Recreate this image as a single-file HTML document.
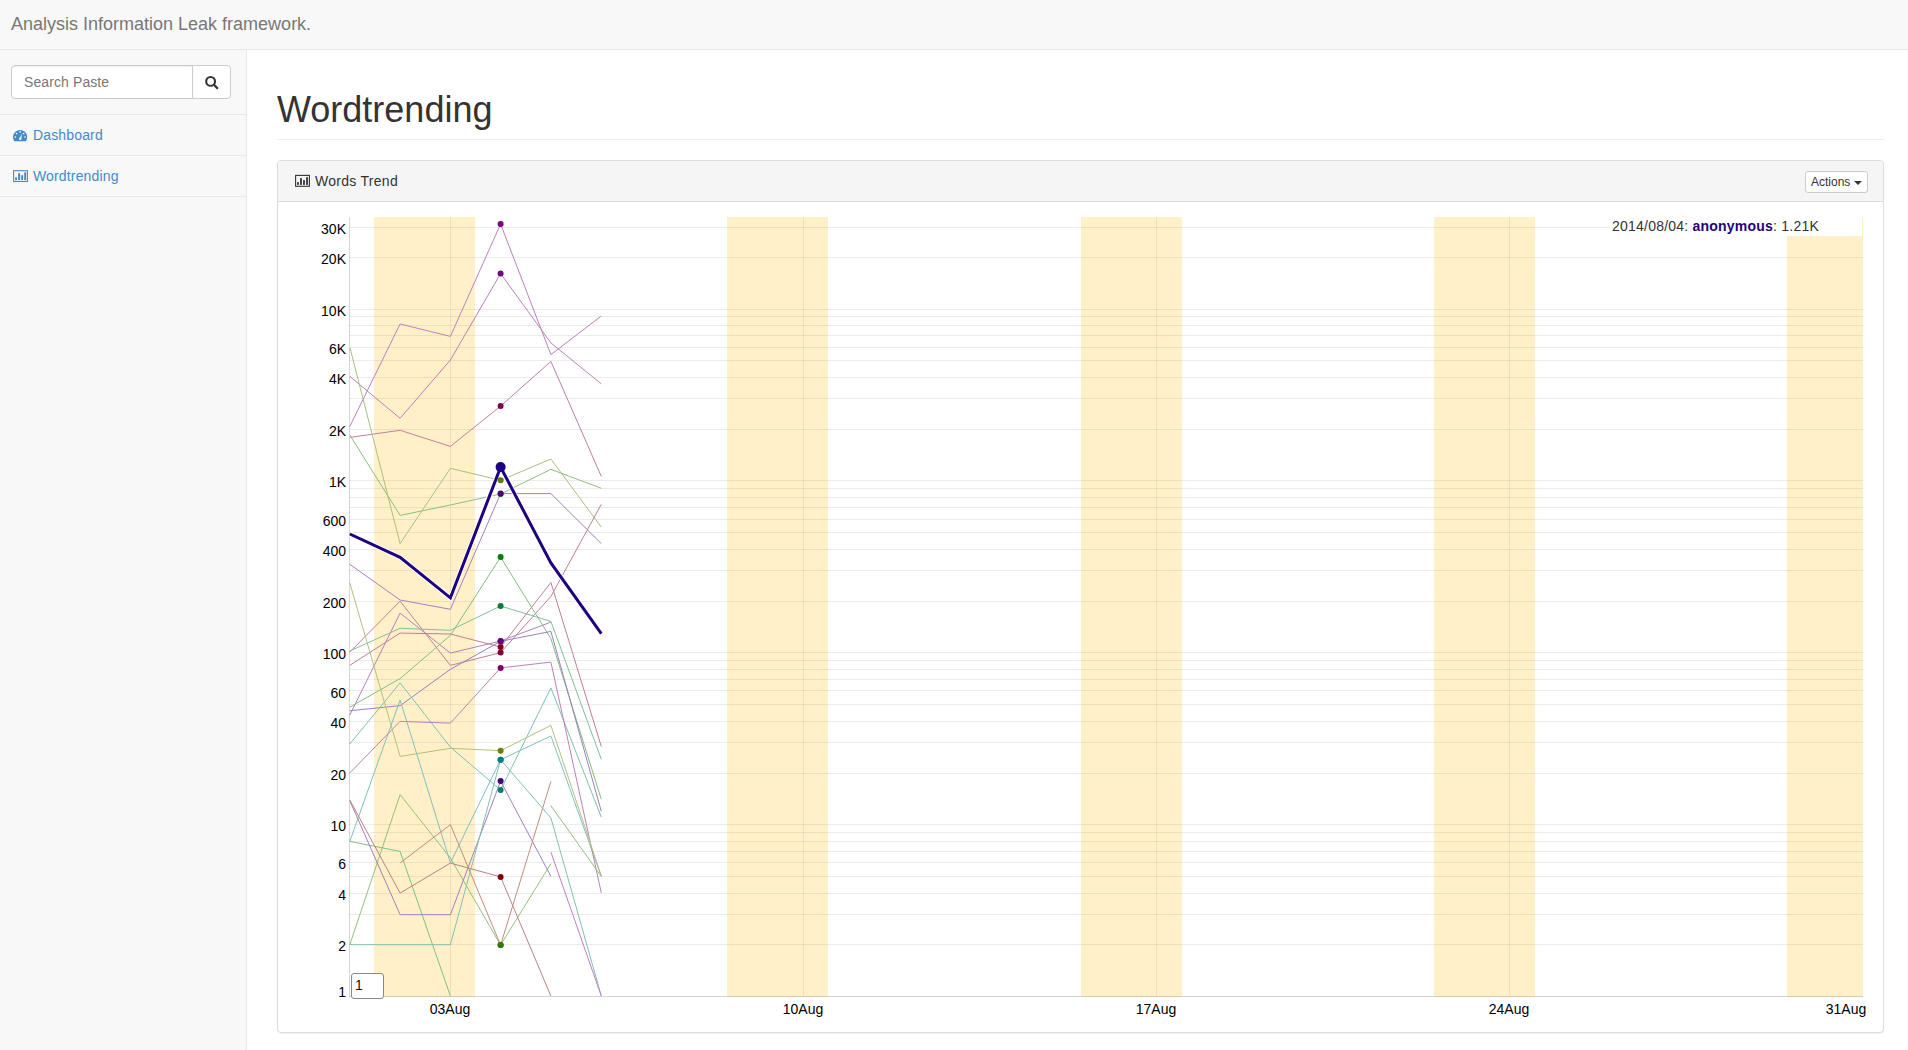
<!DOCTYPE html>
<html><head><meta charset="utf-8">
<style>
*{box-sizing:border-box;margin:0;padding:0}
html,body{width:1908px;height:1050px;overflow:hidden}
body{font-family:"Liberation Sans",sans-serif;font-size:14px;color:#333;background:#f8f8f8;position:relative}
.nav{position:absolute;left:0;top:0;width:1908px;height:50px;background:#f8f8f8;border-bottom:1px solid #e7e7e7}
.brand{position:absolute;left:11px;top:14px;font-size:18px;line-height:20px;color:#777;white-space:nowrap}
.side{position:absolute;left:0;top:50px;width:246px}
.search{position:absolute;left:11px;top:65px;width:220px;height:34px}
.search .inp{position:absolute;left:0;top:0;width:182px;height:34px;border:1px solid #ccc;border-radius:4px 0 0 4px;background:#fff;box-shadow:inset 0 1px 1px rgba(0,0,0,.075)}
.search .inp span{position:absolute;left:12px;top:6px;line-height:20px;color:#777;font-size:14px;letter-spacing:0.1px}
.search .btn{position:absolute;left:181px;top:0;width:39px;height:34px;border:1px solid #ccc;border-radius:0 4px 4px 0;background:#fff}
.hr{position:absolute;left:0;width:246px;height:1px;background:#e7e7e7}
.navlink{position:absolute;left:33px;line-height:20px;color:#428bca;font-size:14px;white-space:nowrap;letter-spacing:0.15px}
.vline{position:absolute;left:246px;top:50px;width:1px;height:1000px;background:#e7e7e7}
.main{position:absolute;left:247px;top:50px;width:1661px;height:1000px;background:#fff}
h1{position:absolute;left:277px;top:90px;font-size:36px;line-height:39.6px;font-weight:500;color:#333;white-space:nowrap}
.hdrline{position:absolute;left:277px;top:139px;width:1607px;height:1px;background:#eee}
.panel{position:absolute;left:277px;top:160px;width:1607px;height:873px;border:1px solid #ddd;border-radius:4px;background:#fff;box-shadow:0 1px 1px rgba(0,0,0,.05)}
.phead{position:absolute;left:0;top:0;width:1605px;height:41px;background:#f5f5f5;border-bottom:1px solid #ddd;border-radius:3px 3px 0 0}
.ptitle{position:absolute;left:37px;top:10px;line-height:20px;font-size:14px;color:#333;white-space:nowrap;letter-spacing:0.28px}
.actions{position:absolute;left:1527px;top:10px;width:63px;height:22px;border:1px solid #ccc;border-radius:3px;background:#fff;font-size:12px;line-height:18px;color:#333;padding-left:5px;padding-top:1px;white-space:nowrap}
.caret{display:inline-block;width:0;height:0;margin-left:4px;vertical-align:middle;border-top:4px solid #333;border-left:4px solid transparent;border-right:4px solid transparent}
.ylab{position:absolute;width:60px;text-align:right;font-size:14px;line-height:16px;color:#000}
.xlab{position:absolute;width:60px;text-align:center;font-size:14px;line-height:16px;color:#000}
.legend{position:absolute;left:1612px;top:217px;width:250px;height:19px;background:#fff;font-size:14px;line-height:19px;color:#333;white-space:nowrap;letter-spacing:0.22px;overflow:hidden}
.roller{position:absolute;left:351px;top:973px;width:33px;height:26px;border:1px solid #888;border-radius:3px;background:#fff;font-size:14px;line-height:22px;padding-left:3px;color:#111}
</style></head><body>
<div class="nav"><div class="brand">Analysis Information Leak framework.</div></div>
<div class="vline"></div>
<div class="main"></div>
<div class="search"><div class="inp"><span>Search Paste</span></div><div class="btn"></div></div>
<div class="hr" style="top:114px"></div>
<div class="hr" style="top:155px"></div>
<div class="hr" style="top:196px"></div>
<div class="navlink" style="top:125px">Dashboard</div>
<div class="navlink" style="top:166px">Wordtrending</div>
<h1>Wordtrending</h1>
<div class="hdrline"></div>
<div class="panel">
 <div class="phead"><div class="ptitle">Words Trend</div><div class="actions">Actions<span class="caret"></span></div></div>
</div>
<svg class="chart" width="1908" height="1050" viewBox="0 0 1908 1050" style="position:absolute;left:0;top:0">
<rect x="374" y="217" width="101" height="780" fill="#fff0c8"/>
<rect x="727" y="217" width="101" height="780" fill="#fff0c8"/>
<rect x="1081" y="217" width="101" height="780" fill="#fff0c8"/>
<rect x="1434" y="217" width="101" height="780" fill="#fff0c8"/>
<rect x="1787" y="217" width="76" height="780" fill="#fff0c8"/>
<line x1="349" y1="944.5" x2="1863" y2="944.5" stroke="rgba(140,140,140,0.17)" stroke-width="1"/>
<line x1="349" y1="914.5" x2="1863" y2="914.5" stroke="rgba(140,140,140,0.17)" stroke-width="1"/>
<line x1="349" y1="893.5" x2="1863" y2="893.5" stroke="rgba(140,140,140,0.17)" stroke-width="1"/>
<line x1="349" y1="876.5" x2="1863" y2="876.5" stroke="rgba(140,140,140,0.17)" stroke-width="1"/>
<line x1="349" y1="862.5" x2="1863" y2="862.5" stroke="rgba(140,140,140,0.17)" stroke-width="1"/>
<line x1="349" y1="851.5" x2="1863" y2="851.5" stroke="rgba(140,140,140,0.17)" stroke-width="1"/>
<line x1="349" y1="841.5" x2="1863" y2="841.5" stroke="rgba(140,140,140,0.17)" stroke-width="1"/>
<line x1="349" y1="832.5" x2="1863" y2="832.5" stroke="rgba(140,140,140,0.17)" stroke-width="1"/>
<line x1="349" y1="824.5" x2="1863" y2="824.5" stroke="rgba(140,140,140,0.17)" stroke-width="1"/>
<line x1="349" y1="773.5" x2="1863" y2="773.5" stroke="rgba(140,140,140,0.17)" stroke-width="1"/>
<line x1="349" y1="742.5" x2="1863" y2="742.5" stroke="rgba(140,140,140,0.17)" stroke-width="1"/>
<line x1="349" y1="721.5" x2="1863" y2="721.5" stroke="rgba(140,140,140,0.17)" stroke-width="1"/>
<line x1="349" y1="704.5" x2="1863" y2="704.5" stroke="rgba(140,140,140,0.17)" stroke-width="1"/>
<line x1="349" y1="690.5" x2="1863" y2="690.5" stroke="rgba(140,140,140,0.17)" stroke-width="1"/>
<line x1="349" y1="679.5" x2="1863" y2="679.5" stroke="rgba(140,140,140,0.17)" stroke-width="1"/>
<line x1="349" y1="669.5" x2="1863" y2="669.5" stroke="rgba(140,140,140,0.17)" stroke-width="1"/>
<line x1="349" y1="660.5" x2="1863" y2="660.5" stroke="rgba(140,140,140,0.17)" stroke-width="1"/>
<line x1="349" y1="652.5" x2="1863" y2="652.5" stroke="rgba(140,140,140,0.17)" stroke-width="1"/>
<line x1="349" y1="601.5" x2="1863" y2="601.5" stroke="rgba(140,140,140,0.17)" stroke-width="1"/>
<line x1="349" y1="570.5" x2="1863" y2="570.5" stroke="rgba(140,140,140,0.17)" stroke-width="1"/>
<line x1="349" y1="549.5" x2="1863" y2="549.5" stroke="rgba(140,140,140,0.17)" stroke-width="1"/>
<line x1="349" y1="532.5" x2="1863" y2="532.5" stroke="rgba(140,140,140,0.17)" stroke-width="1"/>
<line x1="349" y1="519.5" x2="1863" y2="519.5" stroke="rgba(140,140,140,0.17)" stroke-width="1"/>
<line x1="349" y1="507.5" x2="1863" y2="507.5" stroke="rgba(140,140,140,0.17)" stroke-width="1"/>
<line x1="349" y1="497.5" x2="1863" y2="497.5" stroke="rgba(140,140,140,0.17)" stroke-width="1"/>
<line x1="349" y1="488.5" x2="1863" y2="488.5" stroke="rgba(140,140,140,0.17)" stroke-width="1"/>
<line x1="349" y1="480.5" x2="1863" y2="480.5" stroke="rgba(140,140,140,0.17)" stroke-width="1"/>
<line x1="349" y1="429.5" x2="1863" y2="429.5" stroke="rgba(140,140,140,0.17)" stroke-width="1"/>
<line x1="349" y1="398.5" x2="1863" y2="398.5" stroke="rgba(140,140,140,0.17)" stroke-width="1"/>
<line x1="349" y1="377.5" x2="1863" y2="377.5" stroke="rgba(140,140,140,0.17)" stroke-width="1"/>
<line x1="349" y1="360.5" x2="1863" y2="360.5" stroke="rgba(140,140,140,0.17)" stroke-width="1"/>
<line x1="349" y1="347.5" x2="1863" y2="347.5" stroke="rgba(140,140,140,0.17)" stroke-width="1"/>
<line x1="349" y1="335.5" x2="1863" y2="335.5" stroke="rgba(140,140,140,0.17)" stroke-width="1"/>
<line x1="349" y1="325.5" x2="1863" y2="325.5" stroke="rgba(140,140,140,0.17)" stroke-width="1"/>
<line x1="349" y1="316.5" x2="1863" y2="316.5" stroke="rgba(140,140,140,0.17)" stroke-width="1"/>
<line x1="349" y1="309.5" x2="1863" y2="309.5" stroke="rgba(140,140,140,0.17)" stroke-width="1"/>
<line x1="349" y1="257.5" x2="1863" y2="257.5" stroke="rgba(140,140,140,0.17)" stroke-width="1"/>
<line x1="349" y1="227.5" x2="1863" y2="227.5" stroke="rgba(140,140,140,0.17)" stroke-width="1"/>
<line x1="450.5" y1="217" x2="450.5" y2="996" stroke="rgba(140,140,140,0.17)" stroke-width="1"/>
<line x1="803.5" y1="217" x2="803.5" y2="996" stroke="rgba(140,140,140,0.17)" stroke-width="1"/>
<line x1="1156.5" y1="217" x2="1156.5" y2="996" stroke="rgba(140,140,140,0.17)" stroke-width="1"/>
<line x1="1509.5" y1="217" x2="1509.5" y2="996" stroke="rgba(140,140,140,0.17)" stroke-width="1"/>
<line x1="349.5" y1="217" x2="349.5" y2="997" stroke="rgba(120,120,120,0.30)" stroke-width="1"/>
<line x1="349" y1="996.5" x2="1863" y2="996.5" stroke="rgba(120,120,120,0.30)" stroke-width="1"/>
<polyline points="349.8,426.4 400.1,324.0 450.4,336.4 500.6,224.0 550.9,354.6 601.3,316.0" fill="none" stroke="#c080c0" stroke-width="1" stroke-linejoin="miter"/>
<polyline points="349.8,376.4 400.1,418.3 450.4,360.0 500.6,273.6 550.9,342.9 601.3,383.9" fill="none" stroke="#bc80c0" stroke-width="1" stroke-linejoin="miter"/>
<polyline points="349.8,437.4 400.1,430.3 450.4,446.4 500.6,406.1 550.9,361.4 601.3,476.4" fill="none" stroke="#c080a5" stroke-width="1" stroke-linejoin="miter"/>
<polyline points="349.8,435.0 400.1,515.4 450.4,505.0 500.6,494.0 550.9,469.3 601.3,488.3" fill="none" stroke="#8ac080" stroke-width="1" stroke-linejoin="miter"/>
<polyline points="349.8,347.1 400.1,543.6 450.4,468.3 500.6,480.3 550.9,459.0 601.3,527.1" fill="none" stroke="#aac080" stroke-width="1" stroke-linejoin="miter"/>
<polyline points="349.8,564.3 400.1,600.0 450.4,609.3 500.6,493.6 550.9,493.6 601.3,543.6" fill="none" stroke="#a580c0" stroke-width="1" stroke-linejoin="miter"/>
<polyline points="349.8,652.1 400.1,601.1 450.4,665.4 500.6,652.6 550.9,596.4 601.3,504.3" fill="none" stroke="#c0809a" stroke-width="1" stroke-linejoin="miter"/>
<polyline points="349.8,715.0 400.1,613.1 450.4,653.1 500.6,641.0 550.9,622.1" fill="none" stroke="#b480c0" stroke-width="1" stroke-linejoin="miter"/>
<polyline points="349.8,651.0 400.1,628.3 450.4,630.3 500.6,606.0 550.9,621.4 601.3,759.3" fill="none" stroke="#80c09a" stroke-width="1" stroke-linejoin="miter"/>
<polyline points="349.8,665.3 400.1,633.1 450.4,634.0 500.6,647.0 550.9,582.5 601.3,746.5" fill="none" stroke="#c08090" stroke-width="1" stroke-linejoin="miter"/>
<polyline points="349.8,707.1 400.1,678.6 450.4,635.4 500.6,557.1 550.9,638.6 601.3,799.3" fill="none" stroke="#80c080" stroke-width="1" stroke-linejoin="miter"/>
<polyline points="349.8,710.7 400.1,705.7 450.4,669.3 500.6,641.3 550.9,631.4 601.3,811.4" fill="none" stroke="#9a80c0" stroke-width="1" stroke-linejoin="miter"/>
<polyline points="349.8,744.0 400.1,682.9 450.4,747.1 500.6,790.0 550.9,687.9 601.3,817.1" fill="none" stroke="#80c0b4" stroke-width="1" stroke-linejoin="miter"/>
<polyline points="349.8,841.4 400.1,700.0 450.4,862.9 500.6,759.7 550.9,736.0 601.3,876.4" fill="none" stroke="#80c0c0" stroke-width="1" stroke-linejoin="miter"/>
<polyline points="349.8,772.9 400.1,721.4 450.4,723.1 500.6,667.9 550.9,662.1 601.3,892.9" fill="none" stroke="#c080b4" stroke-width="1" stroke-linejoin="miter"/>
<polyline points="349.8,582.9 400.1,756.4 450.4,748.3 500.6,750.7 550.9,725.4 601.3,876.0" fill="none" stroke="#b4c080" stroke-width="1" stroke-linejoin="miter"/>
<polyline points="349.8,944.7 400.1,794.6 450.4,858.0 500.6,945.1 550.9,863.6" fill="none" stroke="#94c080" stroke-width="1" stroke-linejoin="miter"/>
<polyline points="349.8,841.4 400.1,851.4 450.4,996.0" fill="none" stroke="#80c084" stroke-width="1" stroke-linejoin="miter"/>
<polyline points="349.8,800.0 400.1,893.1 450.4,863.1 500.6,876.9 550.9,996.0" fill="none" stroke="#c08084" stroke-width="1" stroke-linejoin="miter"/>
<polyline points="349.8,800.7 400.1,914.7 450.4,914.7 500.6,781.1 550.9,876.4" fill="none" stroke="#a080c0" stroke-width="1" stroke-linejoin="miter"/>
<polyline points="400.1,862.9 450.4,824.7 500.6,945.1 550.9,781.4" fill="none" stroke="#c08c80" stroke-width="1" stroke-linejoin="miter"/>
<polyline points="349.8,944.7 400.1,944.7 450.4,944.7 500.6,759.7 550.9,817.9 601.3,996.0" fill="none" stroke="#80c0b0" stroke-width="1" stroke-linejoin="miter"/>
<polyline points="550.9,805.7 601.3,876.4" fill="none" stroke="#94c080" stroke-width="1" stroke-linejoin="miter"/>
<polyline points="550.9,852.1 601.3,996.0" fill="none" stroke="#c080c4" stroke-width="1" stroke-linejoin="miter"/>
<polyline points="349.8,534.0 400.1,557.4 450.4,597.9 500.6,467.1 550.9,562.9 601.3,633.6" fill="none" stroke="#fff" stroke-width="5" stroke-linejoin="miter"/>
<polyline points="349.8,534.0 400.1,557.4 450.4,597.9 500.6,467.1 550.9,562.9 601.3,633.6" fill="none" stroke="#1f0080" stroke-width="3" stroke-linejoin="miter"/>
<circle cx="500.6" cy="945.1" r="3" fill="#801a00"/>
<circle cx="500.6" cy="759.7" r="3" fill="#008060"/>
<circle cx="500.6" cy="641.3" r="3" fill="#350080"/>
<circle cx="500.6" cy="781.1" r="3" fill="#400080"/>
<circle cx="500.6" cy="876.9" r="3" fill="#80000a"/>
<circle cx="500.6" cy="224.0" r="3" fill="#800080"/>
<circle cx="500.6" cy="273.6" r="3" fill="#7a0080"/>
<circle cx="500.6" cy="406.1" r="3" fill="#80004b"/>
<circle cx="500.6" cy="494.0" r="3" fill="#158000"/>
<circle cx="500.6" cy="480.3" r="3" fill="#558000"/>
<circle cx="500.6" cy="493.6" r="3" fill="#4b0080"/>
<circle cx="500.6" cy="652.6" r="3" fill="#800035"/>
<circle cx="500.6" cy="641.0" r="3" fill="#6a0080"/>
<circle cx="500.6" cy="606.0" r="3" fill="#008035"/>
<circle cx="500.6" cy="647.0" r="3" fill="#800020"/>
<circle cx="500.6" cy="557.1" r="3" fill="#008000"/>
<circle cx="500.6" cy="790.0" r="3" fill="#00806a"/>
<circle cx="500.6" cy="759.7" r="3" fill="#008080"/>
<circle cx="500.6" cy="667.9" r="3" fill="#80006a"/>
<circle cx="500.6" cy="750.7" r="3" fill="#6a8000"/>
<circle cx="500.6" cy="945.1" r="3" fill="#2a8000"/>
<circle cx="500.6" cy="467.1" r="5" fill="#1f0080"/>
</svg>
<div class="ylab" style="left:286px;top:220.5px">30K</div>
<div class="ylab" style="left:286px;top:250.8px">20K</div>
<div class="ylab" style="left:286px;top:302.5px">10K</div>
<div class="ylab" style="left:286px;top:340.7px">6K</div>
<div class="ylab" style="left:286px;top:371.0px">4K</div>
<div class="ylab" style="left:286px;top:422.7px">2K</div>
<div class="ylab" style="left:286px;top:474.4px">1K</div>
<div class="ylab" style="left:286px;top:512.6px">600</div>
<div class="ylab" style="left:286px;top:542.9px">400</div>
<div class="ylab" style="left:286px;top:594.6px">200</div>
<div class="ylab" style="left:286px;top:646.3px">100</div>
<div class="ylab" style="left:286px;top:684.5px">60</div>
<div class="ylab" style="left:286px;top:714.8px">40</div>
<div class="ylab" style="left:286px;top:766.5px">20</div>
<div class="ylab" style="left:286px;top:818.2px">10</div>
<div class="ylab" style="left:286px;top:856.4px">6</div>
<div class="ylab" style="left:286px;top:886.7px">4</div>
<div class="ylab" style="left:286px;top:938.4px">2</div>
<div class="ylab" style="left:286px;top:984.0px">1</div>
<div class="xlab" style="left:420px;top:1000.5px">03Aug</div>
<div class="xlab" style="left:773px;top:1000.5px">10Aug</div>
<div class="xlab" style="left:1126px;top:1000.5px">17Aug</div>
<div class="xlab" style="left:1479px;top:1000.5px">24Aug</div>
<div class="xlab" style="left:1816px;top:1000.5px">31Aug</div>
<div class="legend">2014/08/04: <b style="color:#1f0080">anonymous</b>: 1.21K</div>
<div class="roller">1</div>
<svg width="1908" height="1050" style="position:absolute;left:0;top:0">
<circle cx="210.6" cy="81.4" r="4.4" fill="none" stroke="#333" stroke-width="2.1"/>
<line x1="213.9" y1="84.8" x2="217.2" y2="88.1" stroke="#333" stroke-width="2.2" stroke-linecap="round"/>
<path d="M14.3 141.2 A7.1 7.1 0 1 1 25.9 141.2 Z" fill="#428bca"/>
<circle cx="15.2" cy="137" r="0.85" fill="#f8f8f8"/>
<circle cx="16.6" cy="133.5" r="0.85" fill="#f8f8f8"/>
<circle cx="20.1" cy="131.8" r="0.85" fill="#f8f8f8"/>
<circle cx="23.6" cy="133.5" r="0.85" fill="#f8f8f8"/>
<circle cx="25.0" cy="137" r="0.85" fill="#f8f8f8"/>
<path d="M19.3 138.8 L21.9 133.4 L21.2 139.2 Z" fill="#f8f8f8"/>
<circle cx="20.2" cy="138.9" r="1.15" fill="#f8f8f8"/>
<rect x="13.6" y="170.7" width="13.8" height="10.8" fill="none" stroke="#428bca" stroke-width="1.1"/>
<rect x="15.1" y="177.3" width="1.9" height="2.8" fill="#428bca"/>
<rect x="18.1" y="173.2" width="2" height="6.9" fill="#428bca"/>
<rect x="21.2" y="175.2" width="1.9" height="4.9" fill="#428bca"/>
<rect x="24.2" y="172.3" width="1.9" height="7.8" fill="#428bca"/>
<rect x="295.6" y="175.4" width="13.8" height="10.9" fill="none" stroke="#333" stroke-width="1.1"/>
<rect x="297.2" y="182.1" width="1.7" height="2.8" fill="#333"/>
<rect x="300.1" y="178.1" width="1.8" height="6.8" fill="#333"/>
<rect x="303.1" y="180.1" width="1.8" height="4.8" fill="#333"/>
<rect x="306.1" y="177.2" width="1.8" height="7.7" fill="#333"/>
</svg>
</body></html>
